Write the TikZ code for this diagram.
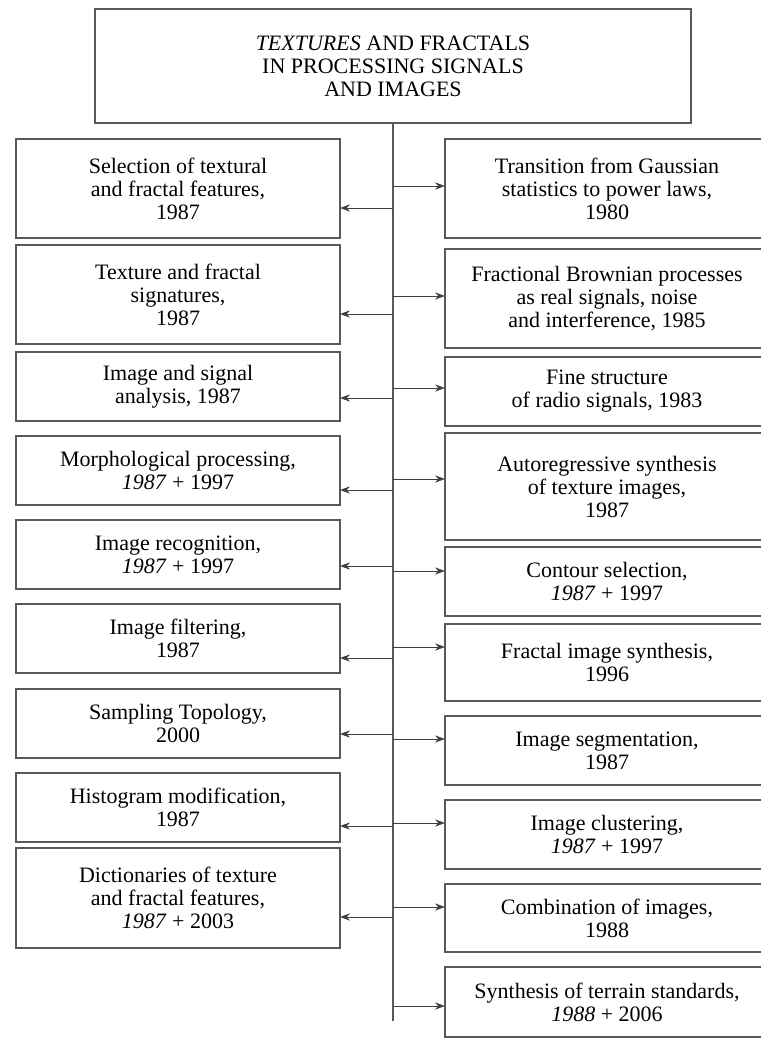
\documentclass[tikz,border=0pt]{standalone}
\usepackage{fontspec}
\setmainfont{Liberation Serif}
\usetikzlibrary{positioning,arrows.meta}
\tikzstyle{tbox}=[rectangle, draw=black!65, line width=0.6pt, outer sep=0pt,
                  minimum width=298pt, minimum height=57pt, inner sep=2pt,
                  align=center, font=\fontsize{11}{11.5}\selectfont]
\tikzstyle{sbox}=[rectangle, draw=black!65, line width=0.6pt, outer sep=0pt,
                  minimum width=162pt, inner sep=2pt, align=center,
                  font=\fontsize{11}{11.5}\selectfont]
\tikzstyle{pline}=[-, draw=black!65, line width=0.6pt]
\tikzstyle{parrow}=[-{Stealth[length=5pt,width=3.6pt]}, draw=black!75, line width=0.5pt]

\begin{document}
\begin{tikzpicture}[node distance=0pt]
\useasboundingbox (0,0) rectangle (380.5pt,-528pt);
\clip (0,0) rectangle (380.5pt,-528pt);

\node (TOP) [tbox, anchor=north] at (196.5pt,-4.5pt)
 {\textit{TEXTURES} AND FRACTALS\\IN PROCESSING SIGNALS\\AND IMAGES};

% left column
\node (L1) [sbox, minimum height=49.5pt, anchor=north west] at (8pt,-69.5pt)
 {Selection of textural\\and fractal features,\\1987};
\node (L2) [sbox, minimum height=49.5pt, below=3.5pt of L1]
 {Texture and fractal\\signatures,\\1987};
\node (L3) [sbox, minimum height=34.5pt, below=4pt of L2]
 {Image and signal\\analysis, 1987};
\node (L4) [sbox, minimum height=34.5pt, below=7.5pt of L3]
 {Morphological processing,\\\textit{1987} + 1997};
\node (L5) [sbox, minimum height=34.5pt, below=7.5pt of L4]
 {Image recognition,\\\textit{1987} + 1997};
\node (L6) [sbox, minimum height=34.5pt, below=7.5pt of L5]
 {Image filtering,\\1987};
\node (L7) [sbox, minimum height=34.5pt, below=8pt of L6]
 {Sampling Topology,\\2000};
\node (L8) [sbox, minimum height=34.5pt, below=7.5pt of L7]
 {Histogram modification,\\1987};
\node (L9) [sbox, minimum height=50pt, below=3pt of L8]
 {Dictionaries of texture\\and fractal features,\\\textit{1987} + 2003};

% right column
\node (R1) [sbox, minimum height=49.5pt, anchor=north west] at (222.5pt,-69.5pt)
 {Transition from Gaussian\\statistics to power laws,\\1980};
\node (R2) [sbox, minimum height=49.5pt, below=5.5pt of R1]
 {Fractional Brownian processes\\as real signals, noise\\and interference, 1985};
\node (R3) [sbox, minimum height=34.5pt, below=4.5pt of R2]
 {Fine structure\\of radio signals, 1983};
\node (R4) [sbox, minimum height=53.5pt, below=3.5pt of R3]
 {Autoregressive synthesis\\of texture images,\\1987};
\node (R5) [sbox, minimum height=34.5pt, below=3.5pt of R4]
 {Contour selection,\\\textit{1987} + 1997};
\node (R6) [sbox, minimum height=38.5pt, below=4pt of R5]
 {Fractal image synthesis,\\1996};
\node (R7) [sbox, minimum height=34.5pt, below=7.5pt of R6]
 {Image segmentation,\\1987};
\node (R8) [sbox, minimum height=34.5pt, below=7.5pt of R7]
 {Image clustering,\\\textit{1987} + 1997};
\node (R9) [sbox, minimum height=34pt, below=7.5pt of R8]
 {Combination of images,\\1988};
\node (R10) [sbox, minimum height=35pt, below=7.5pt of R9]
 {Synthesis of terrain standards,\\\textit{1988} + 2006};

% trunk
\coordinate (END) at (196.5pt,-510.5pt);
\draw[pline] (TOP.south) -- (END);

% branch points on the trunk
\coordinate (aL1) at (196.5pt,-104pt);
\coordinate (aL2) at (196.5pt,-157pt);
\coordinate (aL3) at (196.5pt,-199pt);
\coordinate (aL4) at (196.5pt,-245pt);
\coordinate (aL5) at (196.5pt,-283pt);
\coordinate (aL6) at (196.5pt,-329pt);
\coordinate (aL7) at (196.5pt,-367pt);
\coordinate (aL8) at (196.5pt,-413pt);
\coordinate (aL9) at (196.5pt,-458.5pt);
\coordinate (aR1) at (196.5pt,-93pt);
\coordinate (aR2) at (196.5pt,-148pt);
\coordinate (aR3) at (196.5pt,-194pt);
\coordinate (aR4) at (196.5pt,-239.5pt);
\coordinate (aR5) at (196.5pt,-285.5pt);
\coordinate (aR6) at (196.5pt,-323.5pt);
\coordinate (aR7) at (196.5pt,-369.5pt);
\coordinate (aR8) at (196.5pt,-411.5pt);
\coordinate (aR9) at (196.5pt,-453.5pt);
\coordinate (aR10) at (196.5pt,-503pt);

 \draw[parrow] (aL1) -- (aL1 -| L1.east);
 \draw[parrow] (aL2) -- (aL2 -| L2.east);
 \draw[parrow] (aL3) -- (aL3 -| L3.east);
 \draw[parrow] (aL4) -- (aL4 -| L4.east);
 \draw[parrow] (aL5) -- (aL5 -| L5.east);
 \draw[parrow] (aL6) -- (aL6 -| L6.east);
 \draw[parrow] (aL7) -- (aL7 -| L7.east);
 \draw[parrow] (aL8) -- (aL8 -| L8.east);
 \draw[parrow] (aL9) -- (aL9 -| L9.east);

 \draw[parrow] (aR1) -- (aR1 -| R1.west);
 \draw[parrow] (aR2) -- (aR2 -| R2.west);
 \draw[parrow] (aR3) -- (aR3 -| R3.west);
 \draw[parrow] (aR4) -- (aR4 -| R4.west);
 \draw[parrow] (aR5) -- (aR5 -| R5.west);
 \draw[parrow] (aR6) -- (aR6 -| R6.west);
 \draw[parrow] (aR7) -- (aR7 -| R7.west);
 \draw[parrow] (aR8) -- (aR8 -| R8.west);
 \draw[parrow] (aR9) -- (aR9 -| R9.west);
 \draw[parrow] (aR10) -- (aR10 -| R10.west);

\end{tikzpicture}
\end{document}
